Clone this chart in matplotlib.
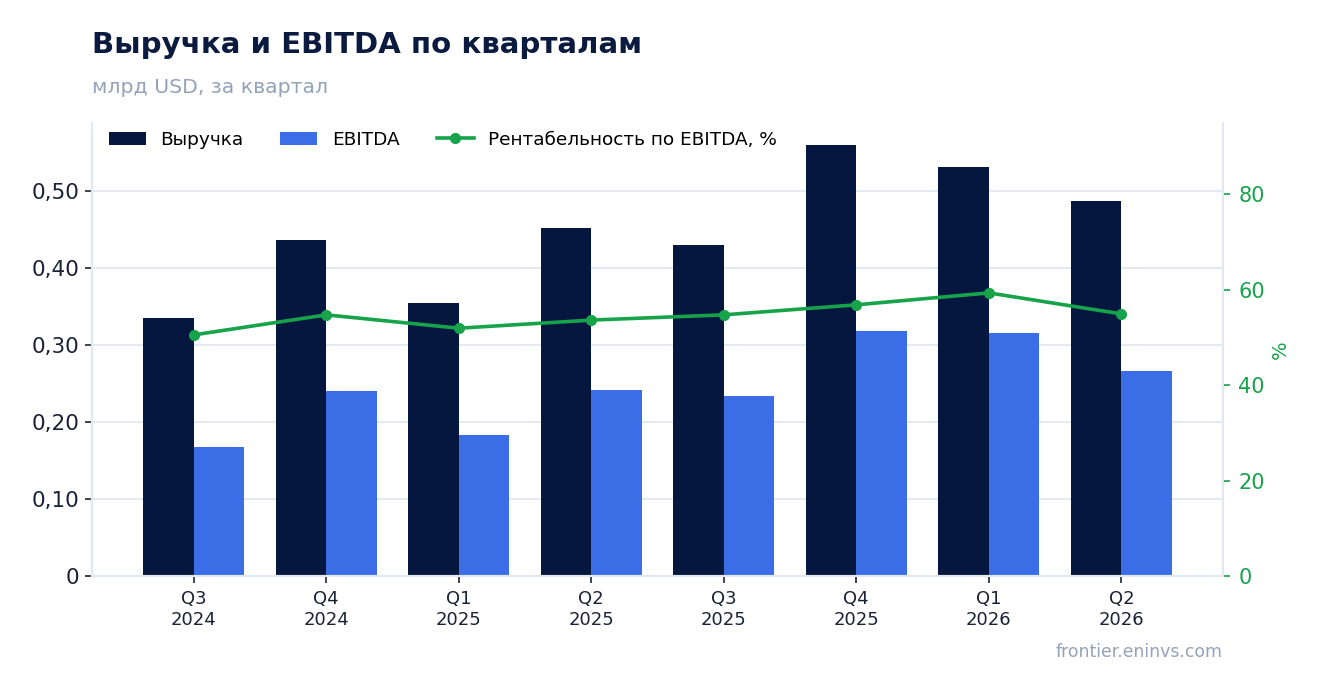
import numpy as np
import matplotlib
matplotlib.use('Agg')
import matplotlib.pyplot as plt
from matplotlib.ticker import FuncFormatter

# quarterly data, bn USD
quarters = ['Q3\n2024', 'Q4\n2024', 'Q1\n2025', 'Q2\n2025',
            'Q3\n2025', 'Q4\n2025', 'Q1\n2026', 'Q2\n2026']
revenue = [0.335, 0.437, 0.355, 0.452, 0.430, 0.561, 0.532, 0.487]
ebitda = [0.168, 0.240, 0.183, 0.242, 0.234, 0.319, 0.316, 0.267]
margin = [50.5, 54.7, 51.9, 53.6, 54.7, 56.8, 59.3, 54.9]

navy = '#05173f'
blue = '#3b6de6'
green = '#16a34a'
grid_c = '#e2e8f0'
grey = '#94a3b8'
dark = '#1a2336'

plt.rcParams['font.family'] = ['DejaVu Sans']

fig = plt.figure(figsize=(13.23, 6.93), dpi=100)
ax = fig.add_axes([0.0695, 0.1688, 0.855, 0.6537])
ax2 = ax.twinx()

x = np.arange(len(quarters))
w = 0.38
ax.bar(x - w/2, revenue, w, color=navy, label='Выручка', zorder=2)
ax.bar(x + w/2, ebitda, w, color=blue, label='EBITDA', zorder=2)
ax2.plot(x, margin, color=green, lw=2.6, marker='o', ms=7,
         label='Рентабельность по EBITDA, %', zorder=3)

ax.set_ylim(0, max(revenue) * 1.05)
ax2.set_ylim(0, max(margin) * 1.6)

ax.set_yticks([0, 0.1, 0.2, 0.3, 0.4, 0.5])
ax.yaxis.set_major_formatter(FuncFormatter(
    lambda v, p: '0' if v == 0 else f'{v:.2f}'.replace('.', ',')))
ax2.set_yticks([0, 20, 40, 60, 80])

ax.set_xticks(x)
ax.set_xticklabels(quarters, fontsize=13, color=dark)
ax.tick_params(axis='y', labelsize=15.5, colors=dark, length=5, width=1.2, pad=4)
ax.tick_params(axis='x', length=5, width=1.2, colors=dark, pad=5)
ax2.tick_params(axis='y', labelsize=15, colors=green, length=5, width=1.2, pad=6)

ax.grid(axis='y', color=grid_c, lw=1.3, zorder=0)
ax.set_axisbelow(True)

for a in (ax, ax2):
    a.spines['top'].set_visible(False)
    for s in ('left', 'right', 'bottom'):
        a.spines[s].set_color(grid_c)
        a.spines[s].set_linewidth(1.5)

ax2.set_ylabel('%', color=green, fontsize=14, labelpad=4)

h1, l1 = ax.get_legend_handles_labels()
h2, l2 = ax2.get_legend_handles_labels()
ax2.legend(h1 + h2, l1 + l2, loc='upper left', ncol=3, frameon=False,
           fontsize=13.3, bbox_to_anchor=(0.0, 1.02))

fig.text(0.0695, 0.955, 'Выручка и EBITDA по кварталам', fontsize=21.05,
         fontweight='bold', color='#0b1a3f', va='top')
fig.text(0.0695, 0.888, 'млрд USD, за квартал', fontsize=14.7,
         color=grey, va='top')
fig.text(0.9244, 0.059, 'frontier.eninvs.com', fontsize=12.4,
         color=grey, ha='right', va='center')

fig.savefig('out.png', dpi=100)
